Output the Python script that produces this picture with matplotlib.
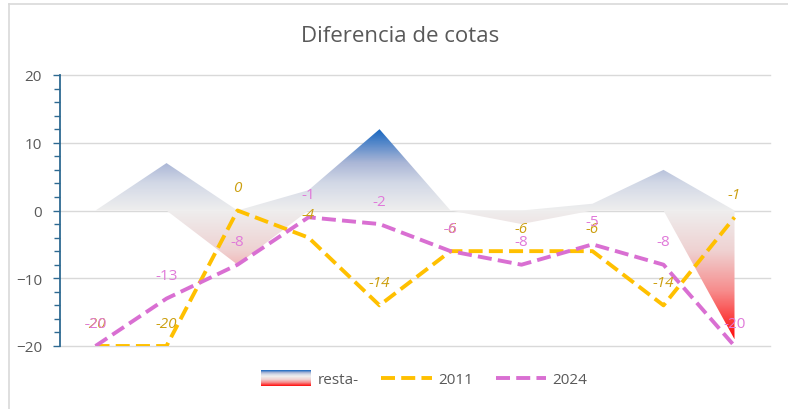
import numpy as np
import matplotlib
matplotlib.use("Agg")
import matplotlib.pyplot as plt
from matplotlib.colors import LinearSegmentedColormap
from matplotlib.patches import Rectangle
from matplotlib.lines import Line2D
from matplotlib.legend_handler import HandlerBase

plt.rcParams['font.family'] = ['Open Sans', 'DejaVu Sans']

# data
points = list(range(10))
y2011 = [-20, -20, 0, -4, -14, -6, -6, -6, -14, -1]
y2024 = [-20, -13, -8, -1, -2, -6, -8, -5, -8, -20]
resta = np.array(y2024) - np.array(y2011)

# gradient: value -> colour
grad_stops = [(-19, '#ff0a0a'), (-12, '#f78c8c'), (-6, '#efd2d2'), (0, '#eeeeee'),
              (4, '#d2d8e6'), (7, '#aab6d6'), (12, '#1565c0')]
vmin, vmax = grad_stops[0][0], grad_stops[-1][0]
cmap = LinearSegmentedColormap.from_list(
    'resta', [((v - vmin) / (vmax - vmin), c) for v, c in grad_stops])

fig = plt.figure(figsize=(7.88, 4.10), dpi=100)
ax = fig.add_axes([60/788, 1-347/410, 710/788, 271/410])

# gradient area, split into positive and negative parts like the original
grad = np.linspace(vmax, vmin, 400).reshape(-1, 1)
for part in (np.maximum(resta, 0), np.minimum(resta, 0)):
    poly = ax.fill_between(points, part, 0, facecolor='none', edgecolor='none')
    im = ax.imshow(grad, cmap=cmap, aspect='auto', extent=[-0.5, 9.5, vmin, vmax],
                   vmin=vmin, vmax=vmax, zorder=1)
    im.set_clip_path(poly.get_paths()[0], transform=ax.transData)

ax.plot(points, y2011, color='#ffc000', lw=2.8, ls=(0, (3.6, 1.6)), zorder=3)
ax.plot(points, y2024, color='#d96fd2', lw=2.8, ls=(0, (3.6, 1.6)), zorder=4)

for x, v in zip(points, y2011):
    ax.annotate(str(v), (x, v), xytext=(0, 16.5), textcoords='offset points',
                ha='center', va='center', fontsize=11, style='italic',
                color='#cc9f10', zorder=5)
for x, v in zip(points, y2024):
    ax.annotate(str(v), (x, v), xytext=(0, 16.5), textcoords='offset points',
                ha='center', va='center', fontsize=11, color='#e07ad9', zorder=6)

ax.set_xlim(-0.5, 9.5)
ax.set_ylim(-20, 20)
ax.set_yticks([-20, -10, 0, 10, 20])
ax.set_yticks(np.arange(-20, 21, 2), minor=True)
ax.set_xticks([])
ax.grid(axis='y', color='#d9d9d9', lw=1, zorder=0, clip_on=False)
ax.set_axisbelow(True)
for s in ['top', 'right', 'bottom']:
    ax.spines[s].set_visible(False)
ax.spines['left'].set_color('#2e6a92')
ax.spines['left'].set_linewidth(1.3)
ax.tick_params(axis='y', which='both', direction='out', color='#2e6a92',
               labelcolor='#595959', labelsize=11, pad=8)
ax.tick_params(axis='y', which='major', length=5, width=1)
ax.tick_params(axis='y', which='minor', length=4, width=1)

fig.text(0.508, 1-37/410, 'Diferencia de cotas', ha='center', va='center',
         fontsize=16, color='#595959')

# chart border (top/left visible in the crop)
fig.add_artist(Line2D([9/788, 9/788], [0, 1-5/410], transform=fig.transFigure,
                      color='#d9d9d9', lw=1.2))
fig.add_artist(Line2D([9/788, 1], [1-5/410, 1-5/410], transform=fig.transFigure,
                      color='#d9d9d9', lw=1.2))


class GradientHandler(HandlerBase):
    def create_artists(self, legend, orig, xd, yd, w, h, fs, trans):
        n = 16
        hh = h * 1.5
        y0 = yd - (hh - h) / 2
        arts = []
        for i in range(n):
            val = vmax - (i + 0.5) / n * (vmax - vmin)
            arts.append(Rectangle((xd, y0 + hh - (i + 1) * hh / n), w, hh / n + 0.3,
                                  facecolor=cmap((val - vmin) / (vmax - vmin)),
                                  edgecolor='none', transform=trans))
        return arts


h_resta = Rectangle((0, 0), 1, 1)
h11 = Line2D([], [], color='#ffc000', lw=2.8, ls=(0, (3.6, 1.6)))
h24 = Line2D([], [], color='#d96fd2', lw=2.8, ls=(0, (3.6, 1.6)))
fig.legend([h_resta, h11, h24], ['resta-', '2011', '2024'], loc='center',
           bbox_to_anchor=(0.538, 1-381/410), ncol=3, frameon=False,
           fontsize=11, labelcolor='#595959', handlelength=3.3,
           handletextpad=0.4, columnspacing=1.5,
           handler_map={Rectangle: GradientHandler()})

fig.savefig('out.png', dpi=100, facecolor='white')
